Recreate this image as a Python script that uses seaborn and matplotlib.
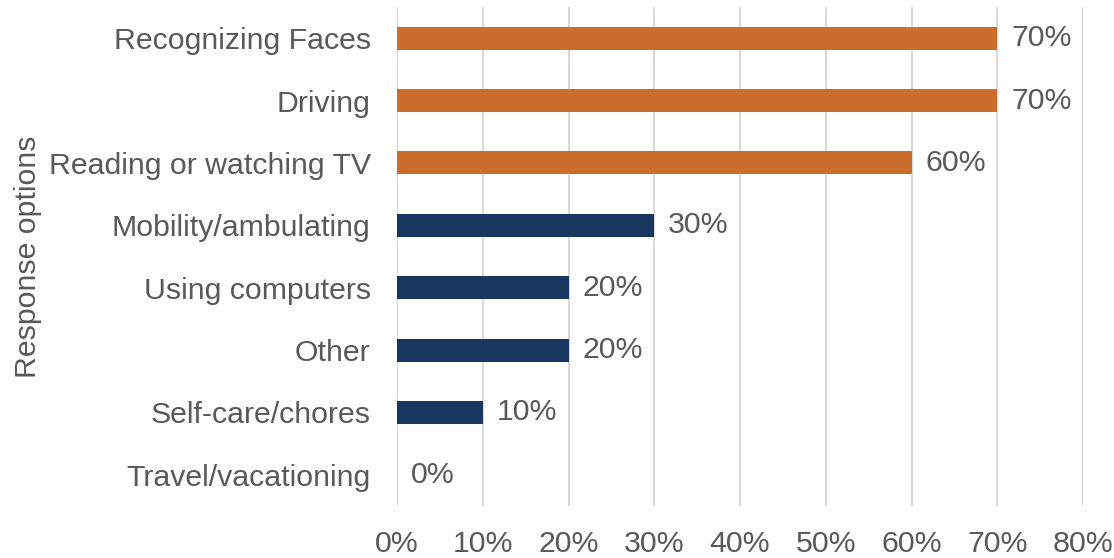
import matplotlib
matplotlib.use("Agg")
import matplotlib.pyplot as plt
import seaborn as sns
import pandas as pd

options = ["Recognizing Faces", "Driving", "Reading or watching TV",
           "Mobility/ambulating", "Using computers", "Other",
           "Self-care/chores", "Travel/vacationing"]
values = [70, 70, 60, 30, 20, 20, 10, 0]
groups = ["top", "top", "top", "other", "other", "other", "other", "other"]
x_ticks = [0, 10, 20, 30, 40, 50, 60, 70, 80]

sns.set_theme(style="white")
plt.rcParams["font.family"] = ["Liberation Sans", "DejaVu Sans"]

df = pd.DataFrame({"option": options, "value": values, "group": groups})
palette = {"top": "#CC6D2E", "other": "#17375E"}
text_color = "#595959"
fs = 21.8

fig = plt.figure(figsize=(11.14, 5.58), dpi=100)
ax = fig.add_axes([0.3564, 0.0932, 0.6158, 0.8943])

sns.barplot(data=df, y="option", x="value", hue="group", palette=palette,
            dodge=False, width=0.37, order=options, hue_order=["top", "other"],
            legend=False, ax=ax, saturation=1, linewidth=0)

for c in ax.containers:
    labels = [f"{int(round(v))}%" if not pd.isna(v) else "" for v in c.datavalues]
    ax.bar_label(c, labels=labels, padding=10, fontsize=fs, color=text_color)

ax.set_xlim(0, 80)
ax.set_xticks(x_ticks)
ax.set_xticklabels([f"{t}%" for t in x_ticks])
ax.set_ylim(len(options) - 0.5, -0.5)
ax.xaxis.grid(True, color="#D9D9D9", linewidth=1.5)
ax.yaxis.grid(False)
ax.set_axisbelow(True)
for s in ax.spines.values():
    s.set_visible(False)

ax.tick_params(axis="y", length=0, pad=19, labelsize=fs, labelcolor=text_color)
ax.tick_params(axis="x", length=0, pad=17, labelsize=fs, labelcolor=text_color)
ax.set_xlabel("")
ax.set_ylabel("Response options", fontsize=fs, color=text_color, labelpad=5)

fig.savefig("out.png", dpi=100)
